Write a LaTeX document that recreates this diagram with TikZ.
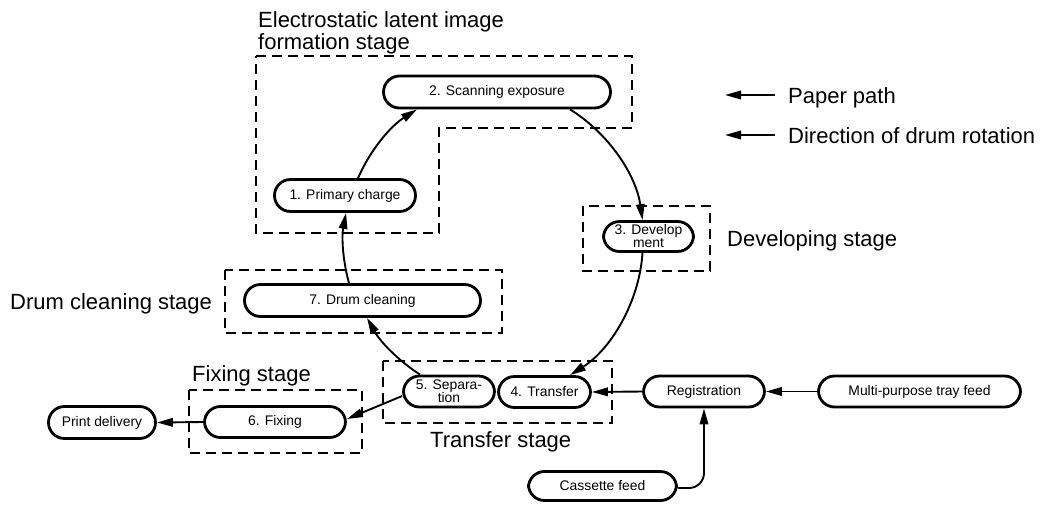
\documentclass[tikz,border=0pt]{standalone}
\usepackage{fontspec}
\setmainfont{Liberation Sans}
\usetikzlibrary{arrows.meta}
\newcommand\nodefnt{\fontsize{13.9}{13}\selectfont}
\newcommand\stagefnt{\fontsize{22}{19}\selectfont}
\tikzset{
  pill/.style={draw, line width=2.8pt, rounded corners=16pt, minimum height=32pt,
    inner sep=0pt, font=\nodefnt, align=center},
  dashbox/.style={line width=2.8pt, dash pattern=on 10pt off 6pt},
  conn/.style={line width=1.9pt, -{Triangle[length=16pt,width=8.5pt]}},
  stagelabel/.style={font=\stagefnt, inner sep=0pt, anchor=base west},
}
\begin{document}
\begin{tikzpicture}[x=1pt,y=-1pt]
\useasboundingbox (0,0) rectangle (1042,504);

% stage boxes
\draw[dashbox] (256,56) -- (632,56) -- (632,128) -- (439,128) -- (439,233) -- (256,233) -- cycle;
\draw[dashbox] (583,206) rectangle (710,271);
\draw[dashbox] (225,270) rectangle (502,333);
\draw[dashbox] (189,390) rectangle (362,453);
\draw[dashbox] (383,361) rectangle (612,423);

% stage labels
\node[stagelabel, anchor=north west, align=left] (lblE) at (258,11.5) {Electrostatic latent image\\formation stage};
\node[stagelabel] (lblD) at (727,246) {Developing stage};
\node[stagelabel] (lblC) at (10,309) {Drum cleaning stage};
\node[stagelabel] (lblF) at (192,381) {Fixing stage};
\node[stagelabel] (lblT) at (430,447) {Transfer stage};

% process nodes
\node[pill, minimum width=227pt] (n2) at (497,92) {2. Scanning exposure};
\node[pill, minimum width=141pt] (n1) at (345,195.5) {1. Primary charge};
\node[pill, minimum width=90pt, minimum height=30pt] (n3) at (648.5,236.5) {3. Develop\\ment};
\node[pill, minimum width=92pt, minimum height=31pt] (n4) at (544.5,392) {4. Transfer};
\node[pill, minimum width=91pt, minimum height=31pt] (n5) at (449,391.5) {5. Separa-\\tion};
\node[pill, minimum width=236pt] (n7) at (362.5,300.5) {7. Drum cleaning};
\node[pill, minimum width=141pt, minimum height=31pt] (n6) at (275,422) {6. Fixing};
\node[pill, minimum width=107pt] (pd) at (102,422.5) {Print delivery};
\node[pill, minimum width=121pt, minimum height=31pt] (reg) at (704,391.5) {Registration};
\node[pill, minimum width=202pt, minimum height=31pt] (mp) at (919.5,391.5) {Multi-purpose tray feed};
\node[pill, minimum width=148pt, minimum height=29pt] (cf) at (602.5,486) {Cassette feed};

% drum rotation arcs
\draw[conn] ([xshift=13pt]n1.north) to[bend left=17, looseness=0.88] ([xshift=-80pt]n2.south);
\draw[conn] ([xshift=73pt]n2.south) to[bend left=25, looseness=0.88] ([xshift=-6pt]n3.north);
\draw[conn] ([xshift=-6pt]n3.south) to[bend left=27, looseness=0.88] ([xshift=25.5pt]n4.north);
\draw[conn] ([xshift=-29pt]n5.north) to[bend left=14, looseness=0.88] ([xshift=4.5pt]n7.south);
\draw[conn] ([xshift=-13.5pt]n7.north) to[bend left=13, looseness=0.88] ([xshift=1pt]n1.south);

% paper path
\draw[conn] ([yshift=-4.5pt]n5.west) -- ([yshift=3pt]n6.east);
\draw[conn] (n6.west) -- (pd.east);
\draw[conn] (reg.west) -- (n4.east);
\draw[conn] (mp.west) -- (reg.east);
\draw[conn, rounded corners=15pt] ([yshift=-2pt]cf.east) -| (reg.south);

% legend
\coordinate (lgA1) at (775,95);
\coordinate (lgA2) at (725,95);
\coordinate (lgB1) at (775,135);
\coordinate (lgB2) at (725,135);
\draw[conn] (lgA1) -- (lgA2);
\draw[conn] (lgB1) -- (lgB2);
\node[stagelabel] (lgt1) at (788,103) {Paper path};
\node[stagelabel] (lgt2) at (788,143) {Direction of drum rotation};
\end{tikzpicture}
\end{document}
